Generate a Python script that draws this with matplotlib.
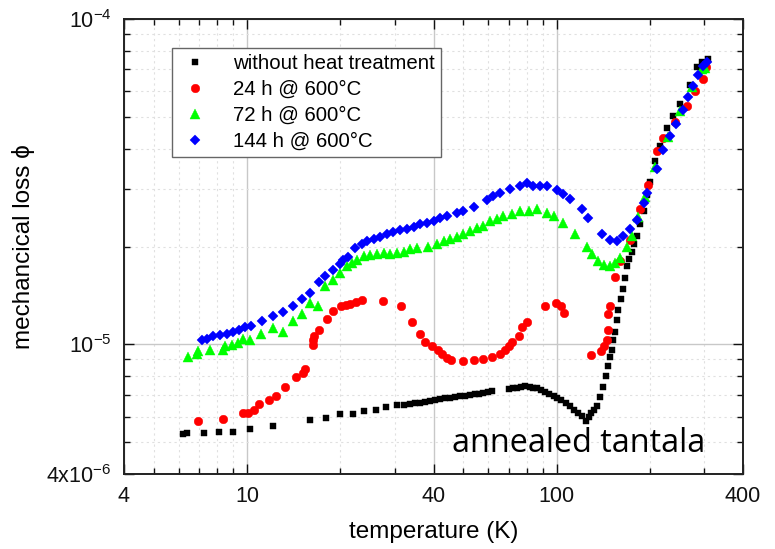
import matplotlib
matplotlib.use("Agg")
import matplotlib.pyplot as plt
from matplotlib.ticker import FixedLocator, NullFormatter

plt.rcParams['font.family'] = ['Liberation Sans', 'DejaVu Sans']
plt.rcParams['mathtext.default'] = 'regular'

# temperature (K) / mechanical loss
T_untreated = [6.2, 6.4, 7.26, 8.12, 8.99, 10.2, 12.1, 16.0, 18.0, 20.0, 21.9, 23.9, 26.05, 28.06,
               30.45, 32.0, 33.6, 34.9, 36.2, 37.6, 39.0, 40.5, 42.0, 43.6, 45.3, 47.0, 48.8, 50.6,
               52.5, 54.6, 56.2, 58.0, 59.8, 61.8, 69.9, 72.1, 74.4, 76.8, 79.1, 82.1, 84.1, 86.5,
               89.1, 91.8, 94.6, 97.7, 100.4, 103.4, 106.9, 110.6, 113.9, 117.4, 120.9, 124.5, 126.9,
               129.3, 132.2, 134.9, 138.2, 141.6, 144.5, 147.0, 148.9, 150.8, 152.6, 154.5, 156.5,
               158.4, 161.6, 164.4, 166.5, 168.6, 171.5, 175.0, 178.0, 181.6, 186.2, 190.8, 195.6,
               200.5, 208.1, 216.0, 227.0, 237.9, 250.6, 270.0, 284.4, 295.2, 308.6]
phi_untreated = [5.32, 5.33, 5.33, 5.38, 5.40, 5.51, 5.61, 5.85, 5.93, 6.10, 6.12, 6.24, 6.31, 6.42,
                 6.51, 6.54, 6.57, 6.59, 6.62, 6.65, 6.70, 6.75, 6.79, 6.83, 6.87, 6.91, 6.94, 6.97,
                 7.00, 7.02, 7.06, 7.11, 7.15, 7.19, 7.31, 7.33, 7.36, 7.40, 7.45, 7.40, 7.36, 7.33,
                 7.25, 7.17, 7.05, 6.94, 6.83, 6.73, 6.59, 6.47, 6.31, 6.18, 6.01, 5.81, 5.97,
                 6.14, 6.31, 6.47, 6.92, 7.38, 7.99, 8.58, 9.12, 9.65, 10.29, 10.89, 11.85,
                 12.8, 13.75, 14.8, 16.06, 17.4, 18.37, 19.3, 20.4, 21.6, 23.5, 25.8, 28.7,
                 31.5, 36.5, 40.6, 46.1, 50.2, 55.0, 62.9, 71.0, 74.0, 75.6]

T_24h = [6.96, 8.38, 9.67, 10.1, 10.5, 10.9, 11.8, 12.4, 13.3, 14.35, 15.2, 15.4, 16.3, 16.35, 16.5,
         17.1, 18.1, 19.0, 20.05, 20.8, 21.5, 22.5, 23.5, 27.4, 31.3, 34.2, 36.2, 37.6, 39.5, 41.3,
         42.6, 44.2, 45.4, 50.0, 53.9, 58.0, 61.8, 65.7, 68.2, 69.9, 71.7, 75.7, 77.2, 80.1, 91.8,
         99.6, 103.2, 105.7, 129.0, 139.0, 142.4, 145.3, 147.0, 147.0, 148.9, 154.9, 160.4, 172.8,
         186.2, 197.5, 210.7, 221.4, 241.5, 263.5, 280.3, 296.8, 304.1]
phi_24h = [5.84, 5.90, 6.17, 6.17, 6.31, 6.56, 6.76, 6.97, 7.39, 7.96, 8.19, 8.40, 9.96, 10.3, 10.6,
           11.1, 12.0, 12.7, 13.1, 13.2, 13.3, 13.5, 13.7, 13.6, 13.1, 11.7, 10.8, 10.2, 9.88, 9.65,
           9.32, 9.10, 8.93, 8.89, 8.95, 9.04, 9.17, 9.32, 9.60, 9.88, 10.2, 10.6, 11.3, 11.7, 13.1,
           13.4, 13.1, 12.5, 9.27, 9.57, 9.86, 10.3, 11.1, 12.4, 13.1, 16.1, 18.0, 21.0,
           26.0, 30.8, 39.3, 43.2, 48.4, 54.0, 60.0, 65.2, 71.0]

T_72h = [6.46, 6.88, 6.96, 7.61, 8.38, 8.49, 8.94, 9.34, 9.73, 10.2, 11.1, 12.1, 13.1, 14.05, 15.0,
         16.0, 17.0, 17.8, 18.9, 20.0, 21.0, 21.8, 22.6, 23.8, 25.0, 26.3, 27.6, 29.0, 30.5, 32.0,
         33.6, 35.3, 38.5, 41.0, 43.1, 45.3, 47.6, 50.0, 52.5, 55.2, 58.0, 61.0, 64.1, 67.3, 71.7,
         76.2, 81.1, 86.3, 92.9, 97.7, 105.0, 114.8, 125.2, 129.9, 135.7, 142.4, 148.9, 154.5,
         160.4, 168.6, 175.0, 183.4, 193.2, 208.1, 229.3, 250.6, 274.1, 295.2, 301.9]
phi_72h = [9.17, 9.32, 9.54, 9.60, 9.60, 9.88, 9.96, 10.1, 10.4, 10.3, 10.8, 11.2, 10.9, 11.8, 12.4,
           13.4, 13.1, 15.1, 15.8, 16.6, 17.4, 17.8, 18.2, 18.7, 18.8, 18.9, 19.1, 18.9, 19.1, 19.3,
           19.7, 19.8, 20.0, 20.4, 20.8, 21.1, 21.4, 21.8, 22.3, 22.8, 23.2, 23.9, 24.3, 24.8, 25.1,
           25.7, 25.8, 26.0, 25.4, 24.8, 23.7, 21.9, 20.0, 19.0, 18.1, 17.6, 17.4, 17.8,
           18.5, 20.0, 21.5, 24.6, 28.3, 35.0, 43.3, 52.0, 61.6, 70.0, 70.8]

T_144h = [7.12, 7.41, 7.78, 8.18, 8.60, 9.03, 9.42, 9.85, 10.3, 11.2, 12.1, 13.1, 14.05, 15.0, 16.0,
          17.1, 17.9, 18.9, 19.9, 20.4, 21.2, 22.3, 23.5, 24.4, 25.6, 26.9, 28.3, 29.7, 31.2, 32.8,
          34.5, 36.2, 38.1, 40.0, 42.0, 44.2, 47.6, 50.0, 53.9, 59.5, 62.5, 65.7, 70.8, 76.2, 80.1,
          84.1, 88.4, 92.9, 100.1, 105.2, 110.6, 120.6, 126.7, 140.0, 148.9, 156.5, 164.4, 172.8,
          181.6, 190.8, 195.6, 210.7, 220.9, 232.7, 243.3, 256.9, 266.0, 276.7, 286.6, 298.1, 306.4]
phi_144h = [10.3, 10.4, 10.6, 10.7, 10.8, 10.9, 11.1, 11.3, 11.4, 11.8, 12.2, 12.6, 13.1, 13.8, 14.4,
            15.6, 16.2, 16.9, 17.7, 18.2, 18.6, 19.8, 20.4, 20.8, 21.1, 21.4, 21.8, 22.1, 22.5, 22.7,
            23.0, 23.4, 23.7, 23.9, 24.5, 24.9, 25.4, 25.8, 26.5, 27.8, 28.6, 29.3, 30.1, 30.7, 31.3,
            30.7, 30.6, 30.7, 29.9, 28.9, 27.9, 26.0, 24.5, 21.8, 21.0, 20.8, 21.5, 22.6,
            24.2, 27.3, 29.2, 34.5, 39.7, 43.7, 47.7, 52.7, 57.4, 62.2, 67.1, 71.6, 74.0]

series = [
    (T_untreated, phi_untreated, 's', 5.0, '#000000', 'without heat treatment'),
    (T_24h, phi_24h, 'o', 6.2, '#ff0000', '24 h @ 600°C'),
    (T_72h, phi_72h, '^', 7.0, '#00ff00', '72 h @ 600°C'),
    (T_144h, phi_144h, 'D', 5.4, '#0000ff', '144 h @ 600°C'),
]

fig = plt.figure(figsize=(7.75, 5.49), dpi=100)
ax = fig.add_axes([124 / 775, 1 - 474 / 549, 619 / 775, 455 / 549])

for T, phi, m, ms, c, lab in series:
    ax.plot(T, [p * 1e-6 for p in phi], linestyle='none', marker=m, ms=ms,
            color=c, mec=c, mew=0.3, label=lab)

ax.set_xscale('log')
ax.set_yscale('log')
ax.set_xlim(4, 400)
ax.set_ylim(4e-6, 1e-4)

ax.xaxis.set_major_locator(FixedLocator([4, 10, 40, 100, 400]))
ax.xaxis.set_minor_locator(FixedLocator([5, 6, 7, 8, 9, 20, 30, 50, 60, 70, 80, 90, 200, 300]))
ax.set_xticklabels(['4', '10', '40', '100', '400'])
ax.xaxis.set_minor_formatter(NullFormatter())

ax.yaxis.set_major_locator(FixedLocator([4e-6, 1e-5, 1e-4]))
ax.yaxis.set_minor_locator(FixedLocator([5e-6, 6e-6, 7e-6, 8e-6, 9e-6] +
                                        [k * 1e-5 for k in range(2, 10)]))
ax.set_yticklabels([r'$4x10^{-6}$', r'$10^{-5}$', r'$10^{-4}$'])
ax.yaxis.set_minor_formatter(NullFormatter())

ax.grid(True, which='major', color='#c8c8c8', lw=1.0)
ax.grid(True, which='minor', color='#e0e0e0', lw=0.8, linestyle=(0, (2, 3)))
ax.set_axisbelow(True)

ax.tick_params(which='both', direction='in', top=True, right=True, labelsize=15.5, colors='#111111')
ax.tick_params(which='major', length=7, width=1.0, pad=9)
ax.tick_params(which='minor', length=4, width=1.0)
for s in ax.spines.values():
    s.set_linewidth(1.4)
    s.set_color('#222222')

ax.set_xlabel('temperature (K)', fontsize=17.5, labelpad=10)
ax.set_ylabel('mechancical loss ϕ', fontsize=17.5, labelpad=8)

leg = ax.legend(loc='upper left', bbox_to_anchor=(0.0775, 0.936), fontsize=14.7,
                frameon=True, fancybox=False, edgecolor='#666666', framealpha=1,
                handlelength=1.7, handletextpad=1.0, labelspacing=0.34,
                borderpad=0.3, borderaxespad=0, markerscale=1.0)
leg.get_frame().set_linewidth(1.0)

fig.text(452 / 775, 1 - 452 / 549, 'annealed tantala', fontfamily='Open Sans',
         fontsize=23.3, va='baseline', ha='left', color='#000000')

fig.savefig('out.png', dpi=100)
